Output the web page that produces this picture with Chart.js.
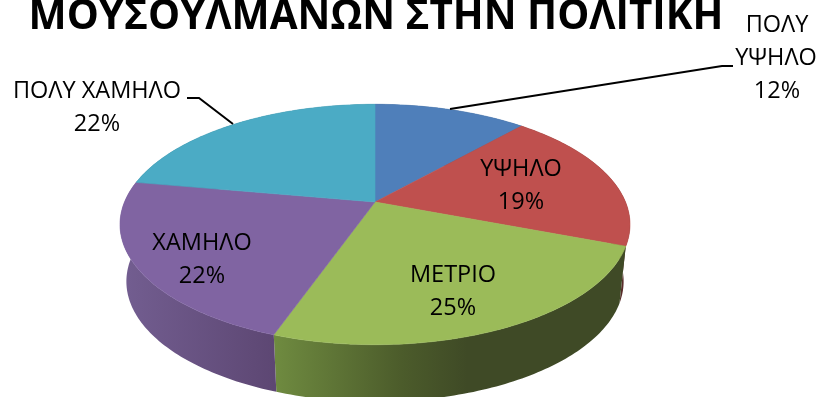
<!DOCTYPE html>
<html>
<head>
<meta charset="utf-8">
<title>ΜΟΥΣΟΥΛΜΑΝΩΝ ΣΤΗΝ ΠΟΛΙΤΙΚΗ</title>
<script src="https://cdn.jsdelivr.net/npm/chart.js@4"></script>
<style>
    html, body { margin: 0; padding: 0; background: #fff; overflow: hidden; }
    canvas { display: block; }
</style>
</head>
<body>
<canvas id="pie" width="821" height="397"></canvas>
<script>
const titleText = 'ΜΟΥΣΟΥΛΜΑΝΩΝ ΣΤΗΝ ΠΟΛΙΤΙΚΗ';
const categories = ['ΠΟΛΥ ΥΨΗΛΟ', 'ΥΨΗΛΟ', 'ΜΕΤΡΙΟ', 'ΧΑΜΗΛΟ', 'ΠΟΛΥ ΧΑΜΗΛΟ'];
const percents = [11.6, 19.2, 24.6, 22.4, 22.2];
const sliceColors = ['#4f7fba', '#bf504e', '#9bbb59', '#8064a2', '#4babc5'];

// side wall shades per slice, [stop, colour] left to right
const wallShades = [
    [[0, '#2e4a6e'], [1, '#2e4a6e']],
    [[0, '#46322c'], [1, '#5a2c2a']],
    [[0, '#6f8b40'], [0.36, '#4c5c2b'], [0.55, '#3f4a26'], [1, '#3f4a26']],
    [[0, '#735e91'], [1, '#5d4773']],
    [[0, '#2c6a7a'], [1, '#2c6a7a']]
];

// perspective of the tilted disc
const view = { cx: 375, cy: 202, rx: 250.5, ry: 116, k: 0.187, depth: 57, shrink: 0.975 };

// hand placed label lines: text, centre x, baseline y
const labelFont = '23.5px "Open Sans"';
const pct = i => Math.round(percents[i]) + '%';
const labelSpots = [
    [['ΠΟΛΥ', 777, 32], ['ΥΨΗΛΟ', 776, 65], [pct(0), 777, 98]],
    [['ΥΨΗΛΟ', 521, 176], [pct(1), 521, 209]],
    [['ΜΕΤΡΙΟ', 453, 282], [pct(2), 453, 315]],
    [['ΧΑΜΗΛΟ', 202, 250], [pct(3), 202, 283]],
    [['ΠΟΛΥ ΧΑΜΗΛΟ', 97, 98], [pct(4), 97, 131]]
];
const leaders = [
    [[450, 109], [722, 66], [733, 66]],
    [[187, 98], [199, 98], [233, 124]]
];

function project(angle) {
    const u = Math.cos(angle), v = Math.sin(angle);
    const s = 1 / (1 - view.k * v);
    return [view.cx + view.rx * u * s, view.cy + view.ry * v * s];
}

function rimPoints(arc) {
    const steps = Math.ceil((arc.endAngle - arc.startAngle) / (Math.PI / 180));
    const pts = [];
    for (let i = 0; i <= steps; i++) {
        pts.push(project(arc.startAngle + (arc.endAngle - arc.startAngle) * i / steps));
    }
    return pts;
}

function drawWall(ctx, arc, shades) {
    const rim = rimPoints(arc);
    const low = rim.map(p => [view.cx + (p[0] - view.cx) * view.shrink, p[1] + view.depth]);
    const xs = rim.map(p => p[0]);
    const grad = ctx.createLinearGradient(Math.min(...xs), 0, Math.max(...xs), 0);
    shades.forEach(s => grad.addColorStop(s[0], s[1]));
    ctx.beginPath();
    rim.forEach((p, i) => i ? ctx.lineTo(p[0], p[1]) : ctx.moveTo(p[0], p[1]));
    low.reverse().forEach(p => ctx.lineTo(p[0], p[1]));
    ctx.closePath();
    ctx.fillStyle = grad;
    ctx.fill();
}

function drawTop(ctx, arc) {
    ctx.beginPath();
    ctx.moveTo(view.cx, view.cy);
    rimPoints(arc).forEach(p => ctx.lineTo(p[0], p[1]));
    ctx.closePath();
    ctx.fillStyle = arc.options.backgroundColor;
    ctx.strokeStyle = arc.options.backgroundColor;
    ctx.lineWidth = 0.6;
    ctx.fill();
    ctx.stroke();
}

// the library works out the slice angles, this draws them tilted
const tiltedPie = {
    id: 'tiltedPie',
    beforeDatasetsDraw(chart) {
        const ctx = chart.ctx;
        const arcs = chart.getDatasetMeta(0).data;
        ctx.save();
        arcs.forEach((arc, i) => drawWall(ctx, arc, wallShades[i]));
        arcs.forEach(arc => drawTop(ctx, arc));
        ctx.restore();
        return false;
    },
    afterDraw(chart) {
        const ctx = chart.ctx;
        ctx.save();
        ctx.fillStyle = '#000';
        ctx.textAlign = 'center';
        ctx.textBaseline = 'alphabetic';
        ctx.font = 'bold 40.4px "Open Sans"';
        ctx.fillText(titleText, 376, 29);
        ctx.font = labelFont;
        labelSpots.forEach(lines => lines.forEach(l => ctx.fillText(l[0], l[1], l[2])));
        ctx.strokeStyle = '#000';
        ctx.lineWidth = 2;
        leaders.forEach(line => {
            ctx.beginPath();
            line.forEach((p, i) => i ? ctx.lineTo(p[0], p[1]) : ctx.moveTo(p[0], p[1]));
            ctx.stroke();
        });
        ctx.restore();
    }
};

new Chart(document.getElementById('pie').getContext('2d'), {
    type: 'pie',
    data: {
        labels: categories,
        datasets: [{ data: percents, backgroundColor: sliceColors, borderWidth: 0 }]
    },
    options: {
        responsive: false,
        animation: false,
        plugins: { legend: { display: false }, tooltip: { enabled: false }, title: { display: false } }
    },
    plugins: [tiltedPie]
});
</script>
</body>
</html>
